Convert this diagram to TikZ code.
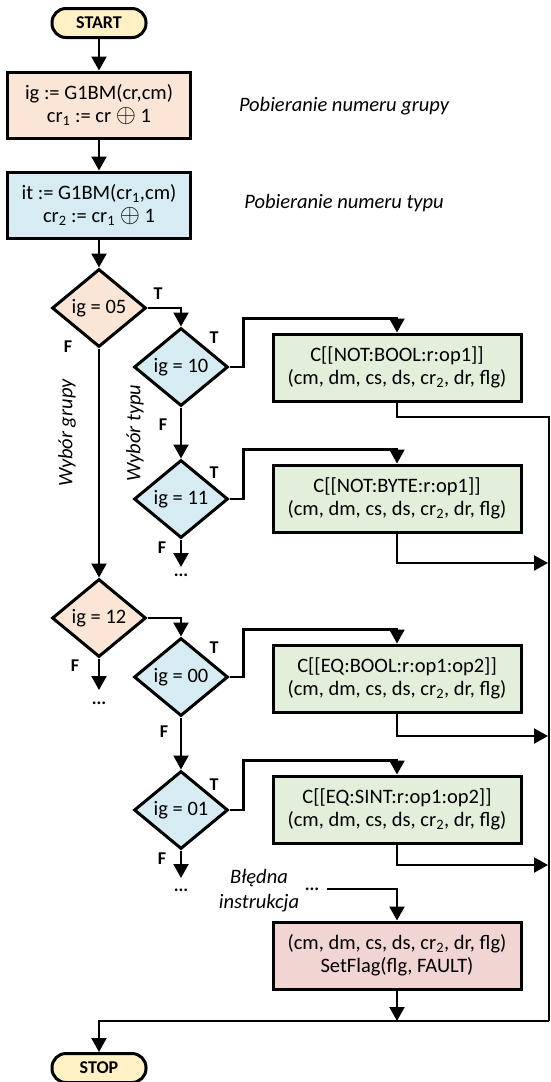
\documentclass[tikz,border=0pt]{standalone}
\usepackage{fontspec}
\setmainfont{Carlito}
\usepackage{tikz}
\usetikzlibrary{positioning}
\usetikzlibrary{shapes,arrows.meta}
\definecolor{termfill}{HTML}{FFF0C6}
\definecolor{peach}{HTML}{FBE5D6}
\definecolor{lblue}{HTML}{D6ECF2}
\definecolor{lgreen}{HTML}{E2EFDA}
\definecolor{lrose}{HTML}{F0D5D2}
\newcommand{\xorop}{\raisebox{-0.5pt}{\scalebox{1.25}{$\oplus$}}}

\begin{document}
\begin{tikzpicture}[%
    x=1pt, y=-1pt,
    >={Triangle[length=14pt,width=15pt]},
    line width=2.2pt,
    font=\fontsize{20.5}{23}\selectfont,
    term/.style={%
      rectangle,
      rounded corners=14pt,
      minimum width=94pt,
      minimum height=29pt,
      line width=3pt,
      fill=termfill,
      draw,
      font=\fontsize{18}{20}\selectfont\bfseries
    },
    proc/.style={%
      rectangle,
      align=center,
      inner sep=0pt,
      minimum width=183pt,
      minimum height=66pt,
      line width=3pt,
      draw
    },
    cmd/.style={%
      proc,
      minimum width=248pt,
      minimum height=67pt,
      fill=lgreen
    },
    test/.style={%
      diamond,
      aspect=1.2,
      inner sep=0pt,
      minimum width=94pt,
      minimum height=78pt,
      line width=3pt,
      draw
    },
    note/.style={font=\fontsize{20.5}{25}\selectfont\itshape, align=center},
    lbl/.style={font=\fontsize{18}{20}\selectfont\bfseries},
    more/.style={font=\fontsize{18}{20}\selectfont\bfseries, inner sep=0pt}
  ]
  \useasboundingbox (0,0) rectangle (551,1082);
  % Nodes: 
    \node[term] (start) at (99,23) {START};
    \node[proc, fill=peach] (grp) at (99,105) {ig := G1BM(cr,cm)\\cr\textsubscript{1} := cr \xorop{} 1};
    \node[proc, fill=lblue] (typ) at (99,205) {it := G1BM(cr\textsubscript{1},cm)\\cr\textsubscript{2} := cr\textsubscript{1} \xorop{} 1};
    \node[note] (ngrp) at (344,106) {Pobieranie numeru grupy};
    \node[note] (ntyp) at (344,203) {Pobieranie numeru typu};
    \node[test, fill=peach] (g05) at (99,308) {ig = 05};
    \node[test, fill=lblue] (t10) at (181,367) {ig = 10};
    \node[test, fill=lblue] (t11) at (181,499) {ig = 11};
    \node[test, fill=peach] (g12) at (99,618) {ig = 12};
    \node[test, fill=lblue] (t00) at (181,677) {ig = 00};
    \node[test, fill=lblue] (t01) at (181,810) {ig = 01};
    \node[cmd] (notbool) at (397,367.5) {C[[NOT:BOOL:r:op1]]\\(cm, dm, cs, ds, cr\textsubscript{2}, dr, flg)};
    \node[cmd] (notbyte) at (397,498.5) {C[[NOT:BYTE:r:op1]]\\(cm, dm, cs, ds, cr\textsubscript{2}, dr, flg)};
    \node[cmd] (eqbool) at (397,678.5) {C[[EQ:BOOL:r:op1:op2]]\\(cm, dm, cs, ds, cr\textsubscript{2}, dr, flg)};
    \node[cmd] (eqsint) at (397,809.5) {C[[EQ:SINT:r:op1:op2]]\\(cm, dm, cs, ds, cr\textsubscript{2}, dr, flg)};
    \node[cmd, fill=lrose] (fault) at (397,955.5) {(cm, dm, cs, ds, cr\textsubscript{2}, dr, flg)\\SetFlag(flg, FAULT)};
    \node[term] (stop) at (99,1068) {STOP};
  % Labels: 
    \node[note, rotate=90] (wgrp) at (67,433) {Wybór grupy};
    \node[note, rotate=90] (wtyp) at (135,433) {Wybór typu};
    \node[note] (bad) at (259,891) {Błędna\\instrukcja};
    \node[lbl] (g05T) at (158,294) {T};
    \node[lbl] (g05F) at (68,347) {F};
    \node[lbl] (t10T) at (214,338) {T};
    \node[lbl] (t10F) at (163,425) {F};
    \node[lbl] (t11T) at (214,473) {T};
    \node[lbl] (t11F) at (162,548) {F};
    \node[lbl] (g12F) at (75,666) {F};
    \node[lbl] (t00T) at (214,648) {T};
    \node[lbl] (t00F) at (164,732) {F};
    \node[lbl] (t01T) at (214,785) {T};
    \node[lbl] (t01F) at (162,859) {F};
  % Loose ends: 
    \coordinate (e11) at (181,567);
    \coordinate (e12) at (99,690);
    \coordinate (e01) at (181,878);
    \node[more] (m11) [below=6pt of e11] {...};
    \node[more] (m12) [below=11pt of e12] {...};
    \node[more] (m01) [below=10pt of e01] {...};
    \node[more] (mbad) at (312,889) {...};
    \coordinate (r1) at (549,417);
    \coordinate (r2) at (548,563);
    \coordinate (r3) at (548,736);
    \coordinate (r4) at (548,865);
    \coordinate (rb) at (549,1021);
  % Paths: 
    \draw[->] (start) -- (grp);
    \draw[->] (grp) -- (typ);
    \draw[->] (typ) -- (g05);
    \draw[->] (g05.south) -- (g12.north);
    \draw[->] (g05.east) -| (t10.north);
    \draw[->] (g12.east) -| (t00.north);
    \draw[->] (t10.south) -- (t11.north);
    \draw[->] (t00.south) -- (t01.north);
    \draw[->] (t11.south) -- (e11);
    \draw[->] (g12.south) -- (e12);
    \draw[->] (t01.south) -- (e01);
    \draw[->] (t10.east) -- ++(14,0) |- ([yshift=14pt]notbool.north) -- (notbool.north);
    \draw[->] (t11.east) -- ++(14,0) |- ([yshift=14pt]notbyte.north) -- (notbyte.north);
    \draw[->] (t00.east) -- ++(14,0) |- ([yshift=14pt]eqbool.north) -- (eqbool.north);
    \draw[->] (t01.east) -- ++(14,0) |- ([yshift=14pt]eqsint.north) -- (eqsint.north);
    \draw[->] ([xshift=7pt]mbad.east) -| (fault.north);
    \draw (notbool.south) |- (r1) -- (rb);
    \draw[->] (notbyte.south) |- (r2);
    \draw[->] (eqbool.south) |- (r3);
    \draw[->] (eqsint.south) |- (r4);
    \draw[->] (fault.south) -- (fault.south |- rb);
    \draw[->] (rb) -| (stop.north);
\end{tikzpicture}
\end{document}
